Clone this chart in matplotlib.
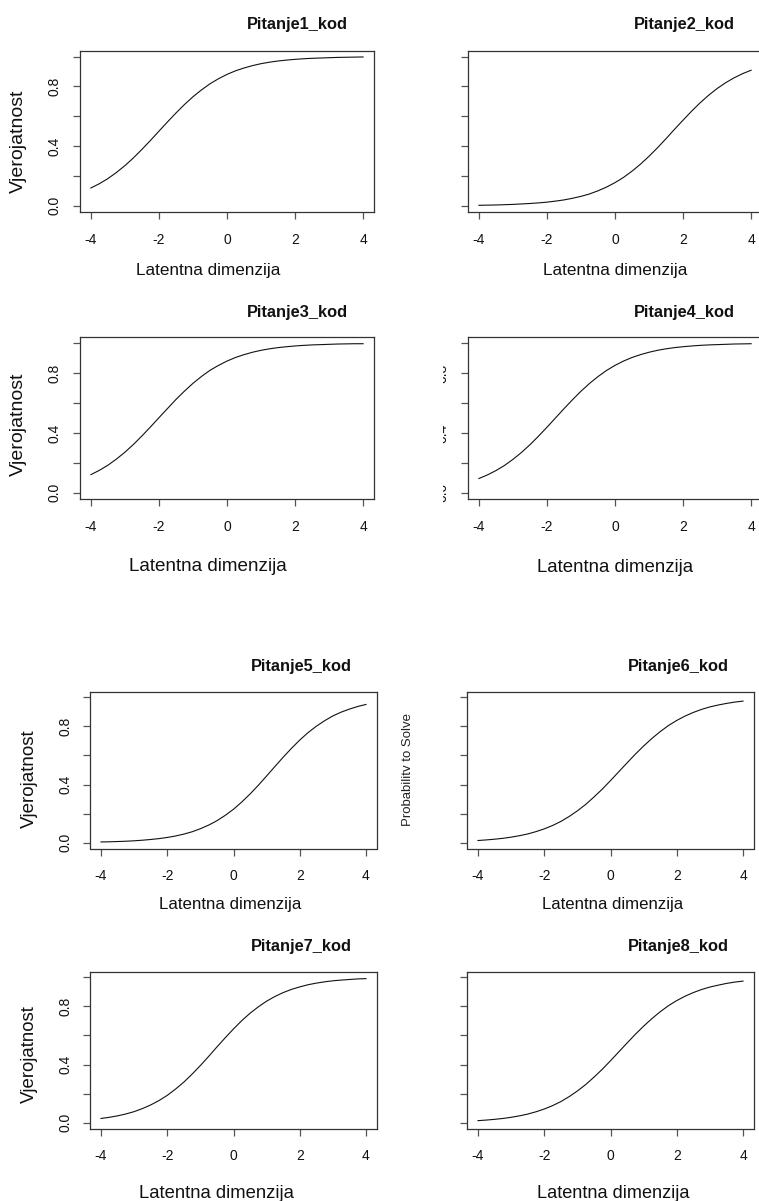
import matplotlib.pyplot as plt
from matplotlib.patches import Rectangle

plt.rcParams['font.family'] = ['Liberation Sans', 'DejaVu Sans']

# ability grid and item characteristic curves (probability of a correct answer)
theta = [-4.0, -3.75, -3.5, -3.25, -3.0, -2.75, -2.5, -2.25, -2.0,
         -1.75, -1.5, -1.25, -1.0, -0.75, -0.5, -0.25, 0.0,
         0.25, 0.5, 0.75, 1.0, 1.25, 1.5, 1.75, 2.0,
         2.25, 2.5, 2.75, 3.0, 3.25, 3.5, 3.75, 4.0]

p1 = [0.119, 0.148, 0.182, 0.223, 0.269, 0.321, 0.378, 0.438, 0.500,
      0.562, 0.622, 0.679, 0.731, 0.777, 0.818, 0.852, 0.881,
      0.905, 0.924, 0.940, 0.953, 0.963, 0.971, 0.977, 0.982,
      0.986, 0.989, 0.991, 0.993, 0.995, 0.996, 0.997, 0.998]
p2 = [0.003, 0.004, 0.005, 0.007, 0.009, 0.012, 0.015, 0.019, 0.024,
      0.031, 0.039, 0.050, 0.063, 0.079, 0.100, 0.125, 0.155,
      0.190, 0.232, 0.279, 0.332, 0.389, 0.450, 0.513, 0.574,
      0.634, 0.690, 0.741, 0.786, 0.825, 0.858, 0.886, 0.909]
p3 = [0.121, 0.150, 0.184, 0.225, 0.271, 0.323, 0.380, 0.440, 0.502,
      0.563, 0.624, 0.680, 0.732, 0.778, 0.819, 0.852, 0.881,
      0.905, 0.924, 0.940, 0.953, 0.963, 0.971, 0.977, 0.982,
      0.986, 0.989, 0.991, 0.993, 0.995, 0.996, 0.997, 0.997]
p4 = [0.095, 0.119, 0.148, 0.182, 0.223, 0.269, 0.321, 0.378, 0.438,
      0.500, 0.562, 0.622, 0.679, 0.731, 0.777, 0.818, 0.852,
      0.881, 0.905, 0.924, 0.940, 0.953, 0.963, 0.971, 0.977,
      0.982, 0.986, 0.989, 0.991, 0.993, 0.995, 0.996, 0.997]
p5 = [0.005, 0.006, 0.008, 0.010, 0.013, 0.017, 0.022, 0.028, 0.036,
      0.046, 0.059, 0.075, 0.096, 0.121, 0.151, 0.188, 0.230,
      0.280, 0.335, 0.395, 0.459, 0.524, 0.588, 0.649, 0.706,
      0.757, 0.801, 0.839, 0.872, 0.898, 0.919, 0.937, 0.951]
p6 = [0.015, 0.019, 0.024, 0.030, 0.038, 0.048, 0.060, 0.076, 0.095,
      0.118, 0.146, 0.180, 0.219, 0.263, 0.314, 0.368, 0.427,
      0.488, 0.549, 0.609, 0.665, 0.717, 0.764, 0.806, 0.841,
      0.871, 0.896, 0.917, 0.934, 0.947, 0.958, 0.967, 0.974]
p7 = [0.029, 0.037, 0.047, 0.060, 0.076, 0.097, 0.122, 0.152, 0.188,
      0.231, 0.279, 0.334, 0.393, 0.456, 0.521, 0.584, 0.645,
      0.702, 0.753, 0.797, 0.836, 0.868, 0.895, 0.917, 0.934,
      0.949, 0.960, 0.969, 0.976, 0.981, 0.985, 0.989, 0.991]
p8 = [0.014, 0.018, 0.023, 0.029, 0.037, 0.047, 0.059, 0.075, 0.094,
      0.117, 0.145, 0.179, 0.218, 0.262, 0.313, 0.367, 0.426,
      0.487, 0.548, 0.608, 0.664, 0.716, 0.763, 0.805, 0.840,
      0.870, 0.895, 0.916, 0.933, 0.946, 0.958, 0.967, 0.974]

curves = [p1, p2, p3, p4, p5, p6, p7, p8]
titles = ['Pitanje1_kod', 'Pitanje2_kod', 'Pitanje3_kod', 'Pitanje4_kod',
          'Pitanje5_kod', 'Pitanje6_kod', 'Pitanje7_kod', 'Pitanje8_kod']
x_ticks = [-4, -2, 0, 2, 4]
y_ticks = [0.0, 0.2, 0.4, 0.6, 0.8, 1.0]
y_tick_labels = ['0.0', '', '0.4', '', '0.8', '']

W, H = 759, 1201
fig = plt.figure(figsize=(W / 100, H / 100), dpi=100)


def add_box(l, t, r, b):
    return fig.add_axes([l / W, 1 - b / H, (r - l) / W, (b - t) / H])


def put(x, y, s, **kw):
    fig.text(x / W, 1 - y / H, s, **kw)


# panel layout in pixels: plot box, title centre, x label (x, y, size),
# y label (x, y, size) or None, whether y tick labels are drawn
panels = [
    dict(box=(80, 50.7, 374, 211.7), title=(297, 25), xlab=(208, 271, 12.3),
         ylab=(18, 141, 14), yticks=True),
    dict(box=(468, 50.7, 762, 211.7), title=(684, 25), xlab=(615, 271, 12.3),
         ylab=None, yticks=False),
    dict(box=(80, 337.3, 374, 498.7), title=(297, 313), xlab=(208, 567, 13.6),
         ylab=(18, 424, 14), yticks=True),
    dict(box=(468, 337.3, 762, 498.7), title=(684, 313), xlab=(615, 568, 13.4),
         ylab=None, yticks=True),
    dict(box=(90.4, 691.5, 376.6, 848.5), title=(301, 666), xlab=(230, 904, 12.2),
         ylab=(29, 779, 13.5), yticks=True),
    dict(box=(467.4, 691.5, 753.6, 848.5), title=(678, 666), xlab=(613, 904, 12.1),
         ylab=None, yticks=False),
    dict(box=(90.4, 971.5, 376.6, 1128.5), title=(301, 946), xlab=(216, 1194, 13.3),
         ylab=(29, 1054, 13.4), yticks=True),
    dict(box=(467.4, 971.5, 753.6, 1128.5), title=(678, 946), xlab=(613, 1194, 13.1),
         ylab=None, yticks=False),
]

for spec, p, title in zip(panels, curves, titles):
    ax = add_box(*spec['box'])
    ax.plot(theta, p, color='#111111', lw=0.8)
    ax.set_xlim(-4.32, 4.32)
    ax.set_ylim(-0.04, 1.04)
    for s in ax.spines.values():
        s.set_color('#333333')
        s.set_linewidth(0.9)
    ax.set_xticks(x_ticks)
    ax.set_xticklabels([str(v) for v in x_ticks])
    ax.set_yticks(y_ticks)
    if spec['yticks']:
        ax.set_yticklabels(y_tick_labels, rotation=90, va='center')
    else:
        ax.set_yticklabels([''] * len(y_ticks))
    ax.tick_params(axis='both', direction='out', length=5, width=0.9,
                   color='#555555', labelsize=10, labelcolor='#111111')
    ax.tick_params(axis='x', pad=10)
    ax.tick_params(axis='y', pad=8)

    tx, ty = spec['title']
    put(tx, ty, title, ha='center', va='center', fontsize=11.8,
        fontweight='bold', color='#111111')
    lx, ly, ls = spec['xlab']
    put(lx, ly, 'Latentna dimenzija', ha='center', va='center', fontsize=ls,
        color='#111111')
    if spec['ylab'] is not None:
        yx, yy, ys = spec['ylab']
        put(yx, yy, 'Vjerojatnost', ha='center', va='center', rotation=90,
            fontsize=ys, color='#111111')

# leftover axis title beside panel 6, half hidden
put(402, 770, 'Probability to Solve', ha='left', va='center', rotation=90,
    fontsize=9.5, color='#222222')


def blank(l, t, r, b):
    fig.patches.append(Rectangle((l / W, 1 - b / H), (r - l) / W, (b - t) / H,
                                 transform=fig.transFigure, facecolor='white',
                                 edgecolor='none', zorder=5))


blank(380, 290, 443, 520)   # cut tick labels of panel 4
blank(410.5, 700, 455, 840)   # cut axis title of panel 6

fig.savefig('out.png', dpi=100)
